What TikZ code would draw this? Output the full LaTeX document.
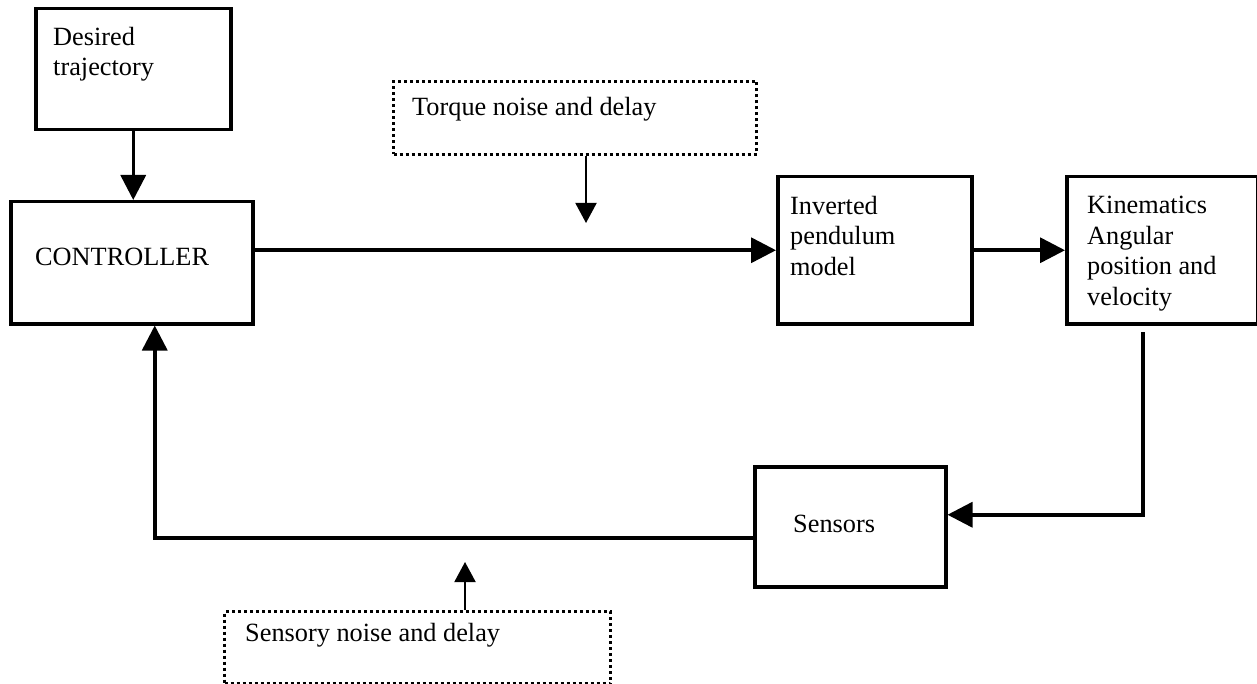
\documentclass[tikz,border=0pt]{standalone}
\usepackage{fontspec}
\setmainfont{Liberation Serif}
\usetikzlibrary{arrows.meta}
\tikzset{
  blk/.style={draw, line width=3.5pt, inner sep=0pt, anchor=north west},
  dotbox/.style={draw, line width=3pt, dash pattern=on 3pt off 3pt, inner sep=0pt, anchor=north west},
  lbl/.style={inner sep=0pt, align=left, font=\fontsize{26.3}{30.5}\selectfont},
  conn/.style={line width=3.5pt, -{Triangle[length=25pt,width=25pt]}},
  noisearrow/.style={line width=2pt, -{Triangle[length=20pt,width=21pt]}},
}
\begin{document}
\begin{tikzpicture}[x=1pt,y=-1pt]
\useasboundingbox (0,0) rectangle (1257,684);

% blocks
\node[blk, minimum width=195pt, minimum height=121pt] (des)  at (34,7)    {};
\node[blk, minimum width=242pt, minimum height=122pt] (ctrl) at (9,200)   {};
\node[dotbox, minimum width=363pt, minimum height=73pt] (tq) at (392,80)  {};
\node[blk, minimum width=194pt, minimum height=147pt] (pend) at (776,175) {};
\node[blk, minimum width=191pt, minimum height=147pt] (kin)  at (1065,175) {};
\node[blk, minimum width=191pt, minimum height=120pt] (sens) at (753,465) {};
\node[dotbox, minimum width=386pt, minimum height=72pt] (sn) at (223,610) {};

% labels
\node[lbl, anchor=north west] (destxt)  at (53,27)   {Desired\\trajectory};
\node[lbl, anchor=base west]  (ctrltxt) at (35,266)  {CONTROLLER};
\node[lbl, anchor=base west]  (tqtxt)   at (412,116) {Torque noise and delay};
\node[lbl, anchor=north west] (pendtxt) at (790,196) {Inverted\\pendulum\\model};
\node[lbl, anchor=north west] (kintxt)  at (1087,196) {Kinematics\\Angular\\position and\\velocity};
\node[lbl, anchor=base west]  (senstxt) at (793,532) {Sensors};
\node[lbl, anchor=base west]  (sntxt)   at (245,641) {Sensory noise and delay};

% connectors
\coordinate (tqtip) at (586,223);
\coordinate (sntip) at (465,562);
\coordinate (kdrop) at (1143,332);

\draw[conn] (des.south) -- (des.south |- ctrl.north);
\draw[noisearrow] (tqtip |- tq.south) -- (tqtip);
\draw[conn] (ctrl.east |- pend.west) -- (pend.west);
\draw[conn] (pend.east) -- (kin.west);
\draw[conn] (kdrop) |- ([yshift=12pt]sens.east);
\draw[conn] ([yshift=-11pt]sens.west) -| ([xshift=23pt]ctrl.south);
\draw[noisearrow] (sntip |- sn.north) -- (sntip);
\end{tikzpicture}
\end{document}
